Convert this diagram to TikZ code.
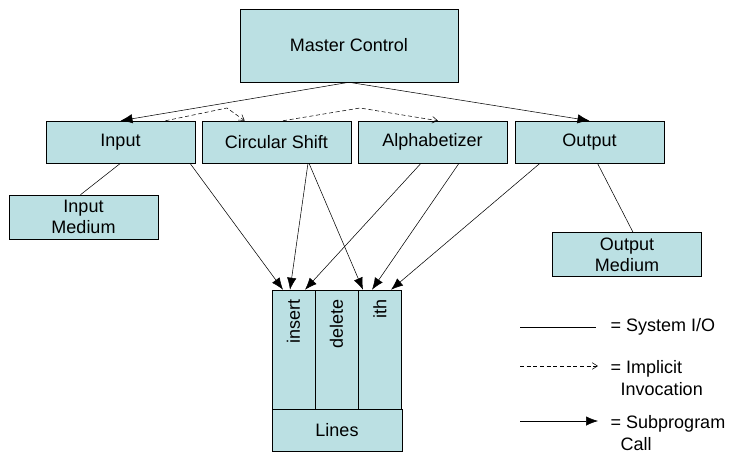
\documentclass[tikz,border=0pt]{standalone}
\usepackage{fontspec}
\setmainfont{Liberation Sans}
\usetikzlibrary{arrows.meta,positioning,calc}
\definecolor{kwic-box}{RGB}{187,224,227}
\tikzstyle{box}=[draw,fill=kwic-box,anchor=center,align=center,inner sep=1pt,font=\fontsize{13.5}{15.5}\selectfont]
\tikzstyle{module}=[box,minimum width=111.75pt,minimum height=31.5pt]
\tikzstyle{medium}=[box,minimum width=111.75pt,minimum height=33pt]
\tikzstyle{column}=[box,minimum width=32.25pt,minimum height=89.25pt]
\tikzstyle{call}=[draw,-{Latex[length=9pt,width=7pt]}]
\tikzstyle{io}=[draw]
\tikzstyle{implicit}=[draw,densely dashed,-{Straight Barb[length=4pt,width=5pt]}]
\tikzstyle{legend}=[anchor=west,align=left,font=\fontsize{13.5}{17}\selectfont]

\begin{document}
\begin{tikzpicture}[x=0.75pt,y=-0.75pt]
  \useasboundingbox (0,0) rectangle (732,462);

  \node[box,minimum width=163.5pt,minimum height=54.75pt] at (349,45.5) (master) {Master Control};

  \node[module] at (120.5,142) (input) {Input};
  \node[module] at (276.5,142) (shift) {Circular Shift};
  \node[module] at (432.5,142) (alpha) {Alphabetizer};
  \node[module] at (589.5,142) (output) {Output};

  \node[medium] at (83.5,217) (inmed) {Input\\Medium};
  \node[medium] at (627,254.5) (outmed) {Output\\Medium};

  % Lines abstract data type
  \node[column] at (293.5,349.5) (insert) {};
  \node[column] at (336.5,349.5) (delete) {};
  \node[column] at (380,349.5) (ith) {};
  \node[box,minimum width=97.5pt,minimum height=31.5pt] at (337,430) (lines) {Lines};
  \node[legend,rotate=90,anchor=east,inner sep=0pt] at ($(insert.north)+(0,9)$) {insert};
  \node[legend,rotate=90,anchor=east,inner sep=0pt] at ($(delete.north)+(0,9)$) {delete};
  \node[legend,rotate=90,anchor=east,inner sep=0pt] at ($(ith.north)+(0,9)$) {ith};

  \draw[call] (master.south) -- (input.north);
  \draw[call] (master.south) -- (output.north);

  \draw[implicit] ($(input.north)+(45,0)$) -- (227,108) -- ($(shift.north west)+(43,0)$);
  \draw[implicit] ($(shift.north)+(6.5,0)$) -- (360,108) -- ($(alpha.north)+(5.5,0)$);

  \draw[io] (input.south) -- ($(inmed.north)+(-3,0)$);
  \draw[io] ($(output.south)+(8,0)$) -- ($(outmed.north)+(6,0)$);

  \draw[call] ($(input.south)+(69.5,0)$) -- ($(insert.north)+(-10.5,0)$);
  \draw[call] ($(shift.south)+(31.5,0)$) -- ($(insert.north)+(-3.5,0)$);
  \draw[call] ($(alpha.south)+(-11.5,0)$) -- ($(insert.north)+(11.5,0)$);
  \draw[call] ($(shift.south)+(32.5,0)$) -- ($(ith.north)+(-17,0)$);
  \draw[call] ($(alpha.south)+(26.5,0)$) -- ($(ith.north)+(-8,0)$);
  \draw[call] ($(output.south)+(-49.5,0)$) -- ($(ith.north)+(11,0)$);

  % legend
  \coordinate (ioa) at (520,327);
  \coordinate (iob) at (596,327);
  \coordinate (ima) at (520,366);
  \coordinate (imb) at (598,366);
  \coordinate (ca) at (520,421);
  \coordinate (cb) at (598,421);
  \draw[io] (ioa) -- (iob);
  \draw[implicit] (ima) -- (imb);
  \draw[call] (ca) -- (cb);
  \node[legend] at (606,327) (ioleg) {= System I/O};
  \node[legend] at (606,378) (imleg) {= Implicit\\\ \ Invocation};
  \node[legend] at (606,433) (cleg) {= Subprogram\\\ \ Call};
\end{tikzpicture}
\end{document}
